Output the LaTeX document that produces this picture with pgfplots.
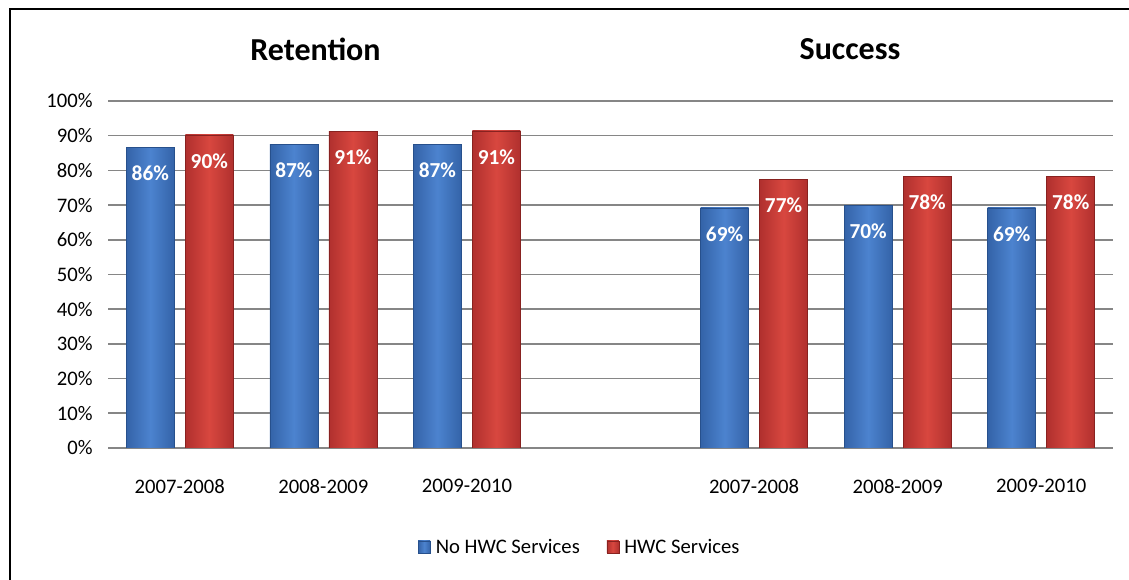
\documentclass[border=0pt]{standalone}
\usepackage{fontspec}
\setmainfont{Carlito}
\usepackage{pgfplots}
\pgfplotsset{compat=1.18}
\definecolor{bluebar}{HTML}{4C83CF}
\definecolor{blueside}{HTML}{3463A8}
\definecolor{blueedge}{HTML}{27508C}
\definecolor{redbar}{HTML}{D8473F}
\definecolor{redside}{HTML}{B0302E}
\definecolor{rededge}{HTML}{882220}
\definecolor{gridgray}{HTML}{868686}
\pgfplotsset{
  bluebarstyle/.style={draw=blueedge, left color=blueside, right color=blueside, middle color=bluebar, bar shift=-22.125pt},
  redbarstyle/.style={draw=rededge, left color=redside, right color=redside, middle color=redbar, bar shift=22.125pt},
}
\begin{document}
\begin{tikzpicture}
\useasboundingbox (0pt,0pt) rectangle (846.75pt,435pt);
\draw[line width=1.5pt] (7.5pt,0pt) -- (7.5pt,428.25pt) -- (846.75pt,428.25pt);
\node[font=\fontsize{24}{28}\selectfont\bfseries] at (236.6pt,398.25pt) {Retention};
\node[font=\fontsize{24}{28}\selectfont\bfseries] at (637.5pt,398.25pt) {Success};
\begin{axis}[
  at={(81pt,99pt)}, anchor=south west,
  scale only axis, width=753.75pt, height=260.25pt,
  xmin=-0.5, xmax=6.5, ymin=0, ymax=100,
  ybar, bar width=36pt,
  xtick={0,1,2,4,5,6},
  xticklabels={2007-2008,2008-2009,2009-2010,2007-2008,2008-2009,2009-2010},
  ytick={0,10,...,100},
  yticklabel={\pgfmathprintnumber{\tick}\%},
  /pgf/number format/assume math mode=true,
  tick label style={font=\fontsize{15.5}{18}\selectfont},
  xticklabel style={yshift=-20pt},
  yticklabel style={xshift=-8pt},
  major tick length=0pt,
  axis line style={draw=none},
  ymajorgrids, major grid style={gridgray, line width=1.2pt},
  point meta=explicit,
  nodes near coords={\pgfmathprintnumber{\pgfplotspointmeta}\%},
  every node near coord/.append style={font=\fontsize{16}{19}\selectfont\bfseries, text=white, anchor=north, yshift=-10.5pt},
  legend columns=2,
  legend style={at={(0.4697,-0.2853)}, anchor=center, draw=none, font=\fontsize{15.5}{18}\selectfont,
    /tikz/every odd column/.append style={column sep=2pt},
    /tikz/every even column/.append style={column sep=18pt}},
  legend image code/.code={\fill[#1] (0pt,-4.5pt) rectangle (9pt,4.5pt);},
]
\addlegendimage{ybar, bar shift=0pt, fill=blueside, draw=blueedge, left color=blueside, right color=blueside, middle color=bluebar}
\addlegendimage{ybar, bar shift=0pt, fill=redside, draw=rededge, left color=redside, right color=redside, middle color=redbar}
\addplot[bluebarstyle, forget plot] coordinates {(0,86.6) [86]};
\addplot[bluebarstyle, forget plot] coordinates {(1,87.5) [87]};
\addplot[bluebarstyle, forget plot] coordinates {(2,87.5) [87]};
\addplot[bluebarstyle, forget plot] coordinates {(4,69.2) [69]};
\addplot[bluebarstyle, forget plot] coordinates {(5,70.0) [70]};
\addplot[bluebarstyle, forget plot] coordinates {(6,69.2) [69]};
\addplot[redbarstyle, forget plot] coordinates {(0,90.2) [90]};
\addplot[redbarstyle, forget plot] coordinates {(1,91.2) [91]};
\addplot[redbarstyle, forget plot] coordinates {(2,91.4) [91]};
\addplot[redbarstyle, forget plot] coordinates {(4,77.5) [77]};
\addplot[redbarstyle, forget plot] coordinates {(5,78.3) [78]};
\addplot[redbarstyle, forget plot] coordinates {(6,78.3) [78]};
\legend{No HWC Services, HWC Services}
\end{axis}
\end{tikzpicture}
\end{document}
